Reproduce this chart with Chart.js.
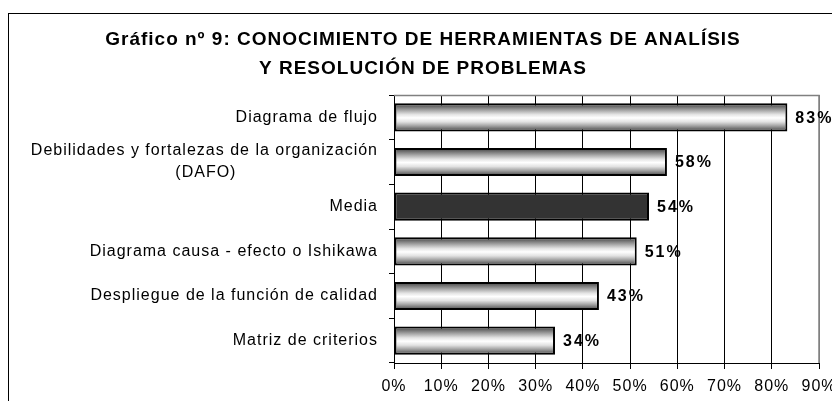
<!DOCTYPE html>
<html lang="es">
<head>
<meta charset="utf-8">
<title>Gráfico nº 9</title>
<script src="https://cdn.jsdelivr.net/npm/chart.js@4/dist/chart.umd.min.js"></script>
<style>
  body { margin: 0; background: #fff; overflow: hidden; }
  #frame { position: absolute; left: 8px; top: 13px; width: 900px; height: 500px; border: 1px solid #000; }
  #wrap { position: absolute; left: 0; top: 0; width: 832px; height: 401px; }
</style>
</head>
<body>
<div id="frame"></div>
<div id="wrap"><canvas id="chart" width="832" height="401"></canvas></div>
<script>
"use strict";

// data
const categories = [
  "Diagrama de flujo",
  ["Debilidades y fortalezas de la organización", "(DAFO)                          "],
  "Media",
  "Diagrama causa - efecto o Ishikawa",
  "Despliegue de la función de calidad",
  "Matriz de criterios"
];
const values = [83.3, 57.8, 54.0, 51.4, 43.4, 34.1];
const xTicks = [0, 10, 20, 30, 40, 50, 60, 70, 80, 90];
const titleLines = [
  "Gráfico nº 9: CONOCIMIENTO DE HERRAMIENTAS DE ANALÍSIS",
  "Y RESOLUCIÓN DE PROBLEMAS"
];
const mediaIndex = 2;
const barPct = 0.63;

Chart.defaults.font.family = "'Liberation Sans', Arial, sans-serif";
Chart.defaults.color = "#000";

// cylinder look for the bars, built from the y scale
function barFill(c) {
  if (c.dataIndex === mediaIndex) return "#333333";
  const chart = c.chart;
  const yScale = chart.scales.y;
  if (!chart.chartArea || !yScale) return "#d0d0d0";
  const mid = yScale.getPixelForValue(c.dataIndex);
  const half = (yScale.height / categories.length) * barPct / 2;
  const g = chart.ctx.createLinearGradient(0, mid - half, 0, mid + half);
  g.addColorStop(0, "#3a3a3a");
  g.addColorStop(0.12, "#6e6e6e");
  g.addColorStop(0.26, "#aaaaaa");
  g.addColorStop(0.4, "#e4e4e4");
  g.addColorStop(0.52, "#ffffff");
  g.addColorStop(0.66, "#e2e2e2");
  g.addColorStop(0.8, "#a4a4a4");
  g.addColorStop(0.92, "#686868");
  g.addColorStop(1, "#3a3a3a");
  return g;
}

// keep the plot box where the labels can overflow it
function noPadding(scale) {
  scale.paddingLeft = 0;
  scale.paddingRight = 0;
  scale.paddingTop = 0;
  scale.paddingBottom = 0;
}

const spacing = {
  id: "spacing",
  beforeDraw(chart) {
    chart.ctx.letterSpacing = "1px";
  }
};

const plotFrame = {
  id: "plotFrame",
  beforeDatasetsDraw(chart) {
    const { ctx, chartArea: a } = chart;
    ctx.save();
    ctx.strokeStyle = "#808080";
    ctx.lineWidth = 1.5;
    ctx.beginPath();
    ctx.moveTo(a.left, a.top + 0.5);
    ctx.lineTo(a.right, a.top + 0.5);
    ctx.lineTo(a.right, a.bottom);
    ctx.stroke();
    ctx.restore();
  }
};

const valueLabels = {
  id: "valueLabels",
  afterDatasetsDraw(chart) {
    const ctx = chart.ctx;
    const meta = chart.getDatasetMeta(0);
    ctx.save();
    ctx.font = "bold 16px 'Liberation Sans', Arial, sans-serif";
    ctx.letterSpacing = "2px";
    ctx.fillStyle = "#000";
    ctx.textAlign = "left";
    ctx.textBaseline = "middle";
    meta.data.forEach(function (bar, i) {
      ctx.fillText(`${Math.round(values[i])}%`, bar.x + 8, bar.y + 1);
    });
    ctx.restore();
  }
};

new Chart(document.getElementById("chart"), {
  type: "bar",
  data: {
    labels: categories,
    datasets: [{
      data: values,
      backgroundColor: barFill,
      borderColor: "#000",
      borderWidth: 2,
      borderSkipped: false,
      barPercentage: barPct,
      categoryPercentage: 1
    }]
  },
  options: {
    indexAxis: "y",
    responsive: false,
    animation: false,
    layout: { padding: { left: 27, right: 13, top: 0, bottom: 0 } },
    plugins: {
      legend: { display: false },
      tooltip: { enabled: false },
      title: {
        display: true,
        text: titleLines,
        color: "#000",
        font: { size: 19, weight: "bold", lineHeight: 29 / 19 },
        padding: { top: 25.5, bottom: 11.5 }
      }
    },
    scales: {
      x: {
        min: 0,
        max: 90,
        afterBuildTicks: function (scale) {
          scale.ticks = xTicks.map(v => ({ value: v }));
        },
        afterFit: function (scale) {
          scale.height = 38;
          noPadding(scale);
        },
        ticks: {
          callback: v => `${v}%`,
          font: { size: 16 },
          padding: 8,
          maxRotation: 0,
          autoSkip: false
        },
        grid: {
          color: c => (c.index === xTicks.length - 1 ? "#808080" : "#000"),
          lineWidth: 1,
          tickLength: 6,
          tickColor: "#000"
        },
        border: { color: "#000", width: 1 }
      },
      y: {
        afterFit: function (scale) {
          scale.width = 367;
          noPadding(scale);
        },
        ticks: {
          font: { size: 16, lineHeight: 1.375 },
          padding: 11,
          autoSkip: false
        },
        grid: {
          drawOnChartArea: false,
          offset: true,
          tickLength: 5,
          tickColor: "#000",
          color: "#000"
        },
        border: { color: "#000", width: 1 }
      }
    }
  },
  plugins: [spacing, plotFrame, valueLabels]
});
</script>
</body>
</html>
